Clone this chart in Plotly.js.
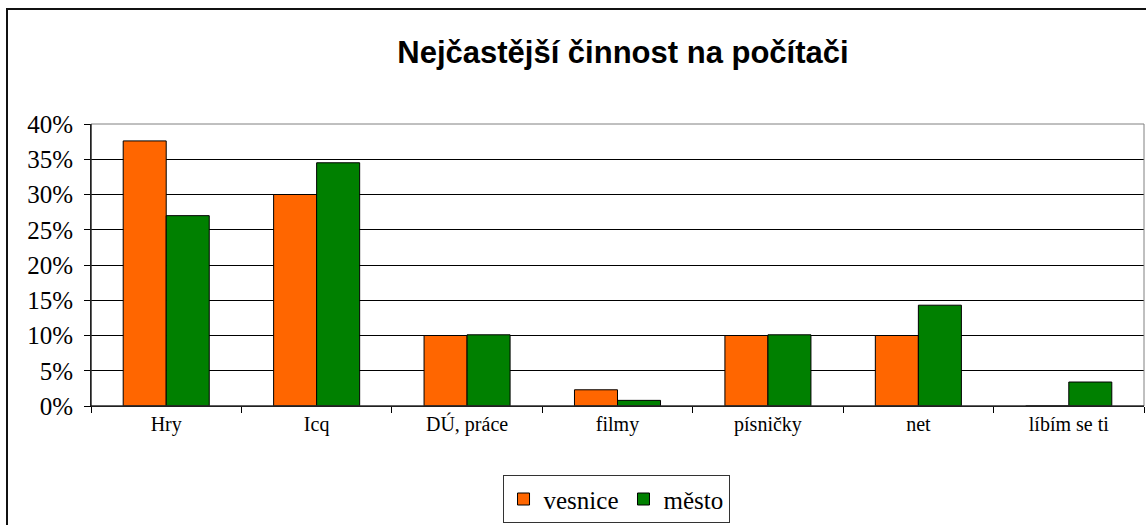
<!DOCTYPE html>
<html>
<head>
<meta charset="utf-8">
<script src="https://cdn.plot.ly/plotly-3.0.1.min.js"></script>
<style>
  html, body { margin: 0; padding: 0; background: #fff; overflow: hidden; }
  #wrap { position: relative; width: 1146px; height: 525px; }
  #chart { position: absolute; left: 0; top: 0; width: 1146px; height: 525px; }
  #frame { position: absolute; left: 6px; top: 8px; width: 1300px; height: 700px;
           border-left: 2px solid #111; border-top: 2px solid #111; pointer-events: none; }
</style>
</head>
<body>
<div id="wrap">
  <div id="chart"></div>
  <div id="frame"></div>
</div>
<script>
const categories = ["Hry", "Icq", "DÚ, práce", "filmy", "písničky", "net", "líbím se ti"];
const seriesNames = ["vesnice", "město"];
const vesnice = [0.376, 0.300, 0.100, 0.023, 0.100, 0.100, 0.0];
const mesto   = [0.270, 0.345, 0.101, 0.008, 0.101, 0.143, 0.034];
const yTickVals = [0, 0.05, 0.10, 0.15, 0.20, 0.25, 0.30, 0.35, 0.40];
const yTickText = ["0%", "5%", "10%", "15%", "20%", "25%", "30%", "35%", "40%"];
const colors = ["#FF6600", "#008000"];

const serif = "'Liberation Serif', 'Times New Roman', serif";

const traces = [vesnice, mesto].map((vals, i) => ({
  type: "bar",
  name: seriesNames[i],
  x: categories,
  y: vals,
  marker: { color: colors[i], line: { color: "#000", width: 1 } },
  hoverinfo: "x+y+name"
}));

const layout = {
  width: 1146, height: 525,
  margin: { l: 91, r: 2, t: 124, b: 116, pad: 0 },
  paper_bgcolor: "rgba(0,0,0,0)",
  plot_bgcolor: "#fff",
  barmode: "group",
  bargap: 0.428,
  bargroupgap: 0,
  title: {
    text: "<b>Nejčastější činnost na počítači</b>",
    font: { family: "'Liberation Sans', Arial, sans-serif", size: 31, color: "#000" },
    x: 0.5436, xanchor: "center", xref: "container",
    y: 0.901, yanchor: "middle", yref: "container"
  },
  xaxis: {
    type: "category",
    showgrid: false,
    showline: true, linecolor: "#000", linewidth: 1,
    ticks: "outside", tickson: "boundaries", ticklen: 6, tickcolor: "#000", tickwidth: 1,
    tickfont: { family: serif, size: 20, color: "#000" },
    zeroline: false,
    fixedrange: true
  },
  yaxis: {
    range: [0, 0.4],
    tickvals: yTickVals,
    ticktext: yTickText,
    showgrid: true, gridcolor: "#000", gridwidth: 1,
    showline: true, linecolor: "#000", linewidth: 1,
    ticks: "outside", ticklen: 6, tickcolor: "#000", tickwidth: 1,
    ticklabelstandoff: 6,
    tickfont: { family: serif, size: 25, color: "#000" },
    zeroline: false,
    fixedrange: true
  },
  shapes: [{
    type: "rect", xref: "paper", yref: "paper", x0: 0, x1: 1, y0: 0, y1: 1,
    line: { color: "#808080", width: 1 }, layer: "above"
  }, {
    type: "line", xref: "paper", yref: "paper", x0: 0, x1: 1, y0: 0, y1: 0,
    line: { color: "#000", width: 1 }, layer: "above"
  }, {
    type: "line", xref: "paper", yref: "paper", x0: 0, x1: 0, y0: 0, y1: 1,
    line: { color: "#000", width: 1 }, layer: "above"
  }],
  legend: {
    orientation: "h",
    x: 0.4986, xanchor: "center",
    y: -0.2456, yanchor: "top",
    bordercolor: "#333", borderwidth: 1,
    bgcolor: "#fff",
    font: { family: serif, size: 25, color: "#000" },
    itemwidth: 30,
    traceorder: "normal"
  },
  showlegend: true
};

Plotly.newPlot("chart", traces, layout, { displayModeBar: false, staticPlot: true });
</script>
</body>
</html>
